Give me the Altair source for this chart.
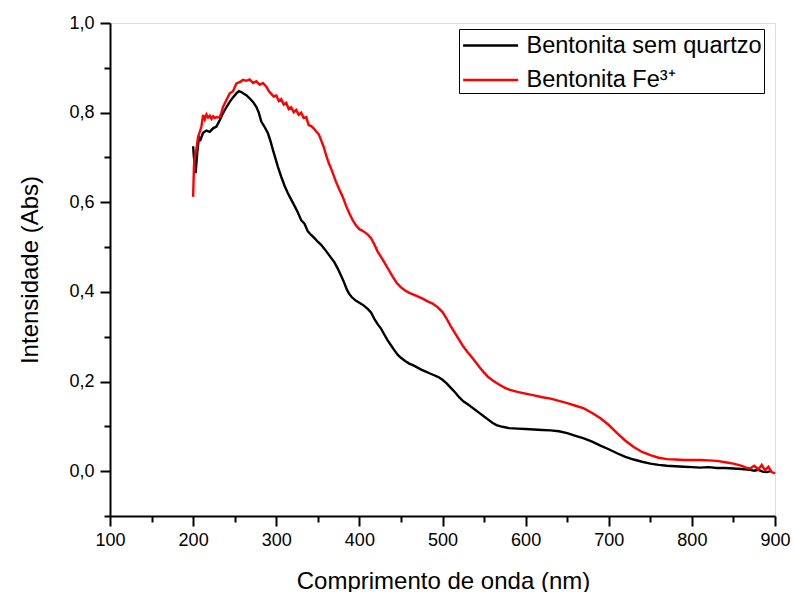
import altair as alt
import pandas as pd

FONT = "Liberation Sans"

series_names = ["Bentonita sem quartzo", "Bentonita Fe³⁺"]
series_colors = ["#000000", "#ff0000"]

black_nm = [200, 201, 203, 205, 207, 209, 212, 216, 220, 224, 228, 232, 236, 240, 244, 248, 252, 255,
            258, 261, 264, 268, 272, 276, 279, 282, 286, 290, 293, 296, 299, 302, 306, 310, 314, 318,
            322, 326, 330, 334, 338, 342, 346, 350, 354, 358, 362, 366, 370, 374, 378, 381, 385, 388,
            391, 396, 400, 405, 410, 414, 418, 422, 426, 430, 434, 438, 442, 446, 450, 455, 460, 465,
            470, 475, 480, 485, 490, 495, 500, 505, 510, 515, 520, 525, 530, 535, 540, 545, 550, 555,
            560, 565, 570, 575, 580, 590, 600, 610, 620, 630, 640, 650, 660, 670, 680, 690, 700, 710,
            720, 730, 740, 750, 760, 770, 780, 790, 800, 810, 820, 830, 840, 850, 860, 870, 875, 880,
            885, 890, 895]
black_abs = [0.725, 0.700, 0.665, 0.712, 0.745, 0.740, 0.755, 0.760, 0.757, 0.765, 0.769, 0.783, 0.799,
             0.812, 0.824, 0.834, 0.843, 0.848, 0.846, 0.842, 0.839, 0.832, 0.824, 0.813, 0.800, 0.780,
             0.768, 0.754, 0.737, 0.717, 0.698, 0.679, 0.657, 0.637, 0.620, 0.606, 0.592, 0.577, 0.560,
             0.552, 0.535, 0.527, 0.520, 0.512, 0.505, 0.496, 0.486, 0.476, 0.466, 0.452, 0.436, 0.424,
             0.405, 0.395, 0.388, 0.380, 0.376, 0.370, 0.362, 0.354, 0.340, 0.328, 0.318, 0.305, 0.292,
             0.281, 0.270, 0.260, 0.253, 0.246, 0.240, 0.236, 0.231, 0.226, 0.222, 0.218, 0.214, 0.210,
             0.204, 0.196, 0.186, 0.176, 0.165, 0.156, 0.150, 0.143, 0.136, 0.129, 0.122, 0.115, 0.108,
             0.103, 0.100, 0.098, 0.096, 0.095, 0.094, 0.093, 0.092, 0.091, 0.089, 0.085, 0.079, 0.073,
             0.066, 0.057, 0.049, 0.040, 0.032, 0.026, 0.021, 0.017, 0.014, 0.012, 0.011, 0.010, 0.009,
             0.008, 0.009, 0.007, 0.007, 0.006, 0.005, 0.003, 0.001, 0.003, -0.001, -0.002, 0.000]

red_nm = [200, 201, 202, 204, 206, 208, 210, 212, 214, 216, 218, 220, 222, 224, 226, 228, 230, 232, 234,
          236, 240, 244, 248, 252, 256, 260, 264, 268, 272, 276, 280, 284, 288, 291, 294, 297, 300, 303,
          306, 309, 312, 315, 318, 321, 324, 327, 330, 333, 336, 339, 342, 345, 348, 351, 354, 357, 360,
          363, 366, 369, 372, 376, 380, 384, 388, 392, 396, 400, 405, 410, 414, 418, 422, 426, 430, 435,
          440, 445, 450, 455, 460, 465, 470, 476, 482, 488, 494, 500, 505, 510, 515, 520, 525, 530, 535,
          540, 545, 550, 555, 560, 565, 570, 575, 580, 590, 600, 610, 620, 630, 640, 650, 660, 670, 680,
          690, 700, 710, 720, 730, 740, 750, 760, 770, 780, 790, 800, 810, 820, 830, 840, 850, 860, 865,
          870, 875, 880, 884, 888, 892, 896, 900]
red_abs = [0.612, 0.680, 0.702, 0.720, 0.746, 0.757, 0.769, 0.795, 0.785, 0.796, 0.789, 0.793, 0.786,
           0.792, 0.788, 0.790, 0.789, 0.790, 0.800, 0.813, 0.828, 0.843, 0.848, 0.865, 0.868, 0.873,
           0.871, 0.874, 0.866, 0.870, 0.862, 0.866, 0.858, 0.848, 0.842, 0.836, 0.838, 0.826, 0.830,
           0.818, 0.822, 0.808, 0.812, 0.801, 0.806, 0.795, 0.800, 0.788, 0.790, 0.772, 0.770, 0.765,
           0.758, 0.752, 0.738, 0.724, 0.705, 0.688, 0.675, 0.660, 0.645, 0.628, 0.612, 0.592, 0.575,
           0.560, 0.548, 0.540, 0.535, 0.528, 0.520, 0.506, 0.490, 0.478, 0.466, 0.450, 0.434, 0.420,
           0.410, 0.403, 0.398, 0.394, 0.390, 0.385, 0.379, 0.374, 0.366, 0.355, 0.340, 0.323, 0.308,
           0.293, 0.278, 0.266, 0.255, 0.243, 0.231, 0.220, 0.210, 0.203, 0.197, 0.191, 0.186, 0.182,
           0.177, 0.173, 0.169, 0.165, 0.162, 0.157, 0.152, 0.146, 0.140, 0.130, 0.118, 0.103, 0.085,
           0.068, 0.054, 0.043, 0.036, 0.030, 0.027, 0.026, 0.025, 0.025, 0.025, 0.024, 0.023, 0.020,
           0.017, 0.012, 0.008, 0.006, 0.012, 0.004, 0.014, 0.002, 0.010, -0.002, -0.005]

x_ticks = list(range(100, 901, 50))
y_ticks = [-0.1, 0.0, 0.1, 0.2, 0.3, 0.4, 0.5, 0.6, 0.7, 0.8, 0.9, 1.0]

df = pd.concat([
    pd.DataFrame({"nm": black_nm, "abs": black_abs, "serie": series_names[0]}),
    pd.DataFrame({"nm": red_nm, "abs": red_abs, "serie": series_names[1]}),
])

x_axis = alt.Axis(
    values=x_ticks,
    labelExpr="datum.value % 100 == 0 ? datum.label : ''",
    tickSize={"condition": {"test": "datum.value % 100 == 0", "value": 10}, "value": 6},
    tickColor="black", tickWidth=2, domainColor="black", domainWidth=2,
    labelFont=FONT, labelFontSize=18, labelColor="black", labelPadding=5,
    labelFlush=False, labelOverlap=False, grid=False,
    title="Comprimento de onda (nm)", titleFont=FONT, titleFontSize=24,
    titleFontWeight="normal", titleColor="black",
    titleX=333, titleY=72, titleBaseline="alphabetic", titleAlign="center",
)
y_axis = alt.Axis(
    values=y_ticks,
    labelExpr="abs(round(datum.value*10)) % 2 == 0 ? replace(format(datum.value, '.1f'), '.', ',') : ''",
    tickSize={"condition": {"test": "abs(round(datum.value*10)) % 2 == 0", "value": 10}, "value": 6},
    tickColor="black", tickWidth=2, domainColor="black", domainWidth=2,
    labelFont=FONT, labelFontSize=18, labelColor="black", labelPadding=6,
    labelOverlap=False, labelFlush=False, grid=False,
    title="Intensidade (Abs)", titleFont=FONT, titleFontSize=24,
    titleFontWeight="normal", titleColor="black",
    titleX=-73, titleY=246.5, titleAngle=-90, titleBaseline="alphabetic", titleAlign="center",
)

chart = alt.Chart(df).mark_line(strokeWidth=2.4).encode(
    x=alt.X("nm:Q", scale=alt.Scale(domain=[100, 900], nice=False, zero=False), axis=x_axis),
    y=alt.Y("abs:Q", scale=alt.Scale(domain=[-0.1, 1.0], nice=False, zero=False), axis=y_axis),
    color=alt.Color(
        "serie:N",
        scale=alt.Scale(domain=series_names, range=series_colors),
        legend=alt.Legend(
            title=None, orient="none", legendX=349, legendY=6,
            symbolType="M-0.9,0H3.1", symbolSize=756, symbolStrokeWidth=2.5,
            labelFont=FONT, labelFontSize=23.5, labelColor="black", labelOffset=36,
            labelLimit=400,
            rowPadding=7.5, padding=1.5, strokeColor="black", fillColor="white",
        ),
    ),
).properties(
    width=665, height=493,
    autosize=alt.AutoSizeParams(type="none"),
    padding={"left": 110, "top": 23, "right": 19, "bottom": 76},
).configure_view(stroke="black", strokeWidth=2).configure(background="white")

chart.save("out.html", embed_options={"renderer": "svg", "actions": False})
